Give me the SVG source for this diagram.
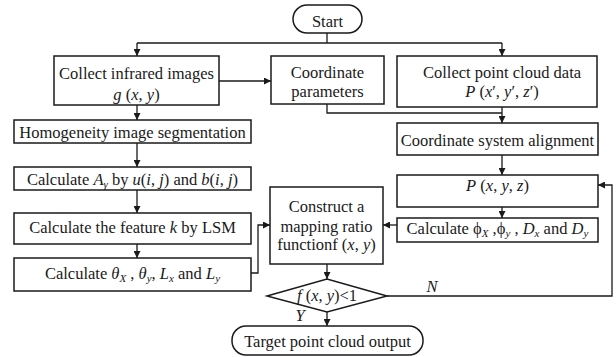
<svg xmlns="http://www.w3.org/2000/svg" width="616" height="357" viewBox="0 0 616 357">
<defs>
<marker id="ah" viewBox="0 0 10 10" refX="10" refY="5" markerWidth="7" markerHeight="7" markerUnits="userSpaceOnUse" orient="auto">
<path d="M0,0 L10,5 L0,10 z" fill="#1a1a1a"/>
</marker>
</defs>
<style>
.b{fill:#fff;stroke:#1a1a1a;stroke-width:1.5}
.c{fill:none;stroke:#1a1a1a;stroke-width:1.3}
text{font-family:"Liberation Serif","Times New Roman",serif;font-size:16.5px;fill:#1a1a1a;text-anchor:middle}
.i{font-style:italic}
.s{font-size:11px}
</style>
<rect width="616" height="357" fill="#fff"/>
<g id="connectors">
<path class="c" d="M327,33 V43"/>
<path class="c" d="M137,43 H502"/>
<path class="c" d="M137,43 V56" marker-end="url(#ah)"/>
<path class="c" d="M502,43 V56" marker-end="url(#ah)"/>
<path class="c" d="M219,81 H271" marker-end="url(#ah)"/>
<path class="c" d="M327,104 V113 H502"/>
<path class="c" d="M502,107 V123" marker-end="url(#ah)"/>
<path class="c" d="M137,105 V120" marker-end="url(#ah)"/>
<path class="c" d="M137,143 V167" marker-end="url(#ah)"/>
<path class="c" d="M137,190 V213" marker-end="url(#ah)"/>
<path class="c" d="M137,244 V258" marker-end="url(#ah)"/>
<path class="c" d="M502,155 V175" marker-end="url(#ah)"/>
<path class="c" d="M502,207 V218" marker-end="url(#ah)"/>
<path class="c" d="M251,273 H258 V225 H270" marker-end="url(#ah)"/>
<path class="c" d="M397,225 H383" marker-end="url(#ah)"/>
<path class="c" d="M327,264 V279" marker-end="url(#ah)"/>
<path class="c" d="M387,296 H612 V185 H598" marker-end="url(#ah)"/>
<path class="c" d="M327,312 V326" marker-end="url(#ah)"/>
<text class="i" x="432" y="292">N</text>
<text class="i" x="300" y="321">Y</text>
</g>
<g id="start">
<rect class="b" x="293" y="5" width="69" height="28" rx="14"/>
<text x="327.5" y="27">Start</text>
</g>
<g id="infrared">
<rect class="b" x="54" y="56" width="165" height="49"/>
<text x="136.5" y="79">Collect infrared images</text>
<text x="136.5" y="100"><tspan class="i">g</tspan> (<tspan class="i">x</tspan>, <tspan class="i">y</tspan>)</text>
</g>
<g id="coordparams">
<rect class="b" x="271" y="56" width="113" height="48"/>
<text x="327.5" y="78">Coordinate</text>
<text x="327.5" y="97">parameters</text>
</g>
<g id="pointcloud">
<rect class="b" x="397" y="56" width="200" height="51"/>
<text x="502" y="78">Collect point cloud data</text>
<text x="502" y="97"><tspan class="i">P</tspan> (<tspan class="i">x</tspan>′, <tspan class="i">y</tspan>′, <tspan class="i">z</tspan>′)</text>
</g>
<g id="homogeneity">
<rect class="b" x="14" y="120" width="237" height="23"/>
<text x="132.5" y="138">Homogeneity image segmentation</text>
</g>
<g id="calcA">
<rect class="b" x="14" y="167" width="237" height="23"/>
<text x="132.5" y="185">Calculate <tspan class="i">A</tspan><tspan class="i s" dy="3">γ</tspan><tspan dy="-3"> by </tspan><tspan class="i">u</tspan>(<tspan class="i">i</tspan>, <tspan class="i">j</tspan>) and <tspan class="i">b</tspan>(<tspan class="i">i</tspan>, <tspan class="i">j</tspan>)</text>
</g>
<g id="feature">
<rect class="b" x="14" y="213" width="237" height="31"/>
<text x="132.5" y="233">Calculate the feature <tspan class="i">k</tspan> by LSM</text>
</g>
<g id="theta">
<rect class="b" x="14" y="258" width="237" height="33"/>
<text x="132.5" y="279">Calculate <tspan class="i">θ</tspan><tspan class="i s" dy="3">X</tspan><tspan dy="-3"> ,  </tspan><tspan class="i">θ</tspan><tspan class="i s" dy="3">y</tspan><tspan dy="-3">, </tspan><tspan class="i">L</tspan><tspan class="i s" dy="3">x</tspan><tspan dy="-3">  and  </tspan><tspan class="i">L</tspan><tspan class="i s" dy="3">y</tspan></text>
</g>
<g id="alignment">
<rect class="b" x="397" y="123" width="201" height="32"/>
<text x="497.5" y="146">Coordinate system alignment</text>
</g>
<g id="pxyz">
<rect class="b" x="397" y="175" width="201" height="32"/>
<text x="497.5" y="191"><tspan class="i">P</tspan> (<tspan class="i">x</tspan>, <tspan class="i">y</tspan>, <tspan class="i">z</tspan>)</text>
</g>
<g id="calcphi">
<rect class="b" x="397" y="218" width="201" height="24"/>
<text x="497.5" y="234">Calculate <tspan>ϕ</tspan><tspan class="i s" dy="3">X</tspan><tspan dy="-3"> ,</tspan><tspan>ϕ</tspan><tspan class="i s" dy="3">y</tspan><tspan dy="-3"> , </tspan><tspan class="i">D</tspan><tspan class="i s" dy="3">x</tspan><tspan dy="-3"> and </tspan><tspan class="i">D</tspan><tspan class="i s" dy="3">y</tspan></text>
</g>
<g id="construct">
<rect class="b" x="270" y="187" width="113" height="77"/>
<text x="326.5" y="212">Construct a</text>
<text x="326.5" y="232">mapping ratio</text>
<text x="326.5" y="250">functionf (<tspan class="i">x</tspan>, <tspan class="i">y</tspan>)</text>
</g>
<g id="decision">
<path class="b" d="M267,296 L327,279 L387,296 L327,312 Z"/>
<text x="327" y="301"><tspan class="i">f</tspan> (<tspan class="i">x</tspan>, <tspan class="i">y</tspan>)&lt;1</text>
</g>
<g id="target">
<rect class="b" x="232" y="326" width="191" height="29" rx="14"/>
<text x="327.5" y="347">Target point cloud output</text>
</g>
</svg>
